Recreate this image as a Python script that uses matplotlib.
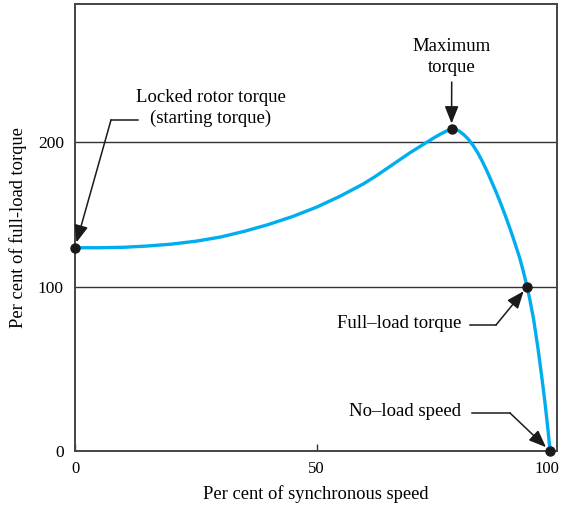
import numpy as np
import matplotlib
matplotlib.use("Agg")
import matplotlib.pyplot as plt
from matplotlib.transforms import ScaledTranslation

# ---- data ----
speed = [0, 5, 10, 15, 20, 25, 30, 35, 40, 45, 50, 55, 60, 62.5, 65, 67.5, 70,
         72.5, 75, 76.5, 78, 78.9, 79.6, 80.5, 81.5, 82.5, 83.5, 84.5, 85.5,
         86.5, 87.5, 88.5, 89.5, 90.5, 91.5, 92.5, 93.5, 94.3, 95.1, 95.7,
         96.5, 97.4, 98.2, 98.9, 99.6, 100]
torque = [127.0, 127.0, 127.3, 128.2, 129.5, 131.5, 134.3, 138.3, 143.0, 148.5,
          155.0, 162.5, 171.0, 176.0, 181.5, 187.0, 192.5, 197.5, 202.5, 205.3,
          207.7, 208.8, 208.9, 207.5, 205.0, 201.8, 197.6, 192.5, 186.5, 179.8,
          172.5, 165.0, 157.0, 148.5, 139.5, 130.0, 120.0, 110.5, 100.0, 92.0,
          80.0, 63.0, 46.0, 30.0, 12.0, 0.0]
key_speed = [0, 78.9, 95.1, 100]
key_torque = [127, 208.8, 100, 0]
ref_lines = [100, 200]
xticks = [0, 50, 100]
yticks = [0, 100, 200]
labels = ["Locked rotor torque\n(starting torque)", "Maximum\ntorque",
          "Full–load torque", "No–load speed"]

plt.rcParams['font.family'] = ['Liberation Serif', 'DejaVu Serif']

fig = plt.figure(figsize=(5.61, 5.07), dpi=100)
ax = fig.add_axes([75/561, 56/507, 482/561, 447/507])

# mild piecewise scales reproducing the drawn figure's axis spacing
xd = [-100, 0, 50, 100, 200]
xp = [-483.4, 0, 241.7, 475, 941.6]
yd = [-100, 0, 100, 200, 400]
yp = [-164, 0, 164, 309, 599]
ax.set_xscale('function', functions=(lambda v: np.interp(v, xd, xp),
                                     lambda v: np.interp(v, xp, xd)))
ax.set_yscale('function', functions=(lambda v: np.interp(v, yd, yp),
                                     lambda v: np.interp(v, yp, yd)))
ax.set_xlim(0, 101.5)
ax.set_ylim(0, 295)

for r in ref_lines:
    ax.axhline(r, color='#333333', lw=1.0, zorder=1)

ax.plot(speed, torque, color='#00AEEF', lw=2.4, zorder=3,
        solid_capstyle='round', solid_joinstyle='round')
ax.plot(key_speed, key_torque, 'o', color='#1a1a1a', ms=6.5, zorder=4,
        clip_on=False)

for s in ax.spines.values():
    s.set_color('#444444')
    s.set_linewidth(1.4)

ax.set_xticks(xticks)
ax.set_yticks(yticks)
ax.set_xticklabels([str(v) for v in xticks])
ax.set_yticklabels([str(v) for v in yticks])
ax.tick_params(axis='x', direction='in', length=5, width=1, color='#333333',
               labelsize=12, pad=7)
ax.tick_params(axis='y', length=0, labelsize=12.5, pad=8)
last = ax.get_xticklabels()[-1]
last.set_transform(last.get_transform() +
                   ScaledTranslation(-3/100, 0, fig.dpi_scale_trans))
ax.set_xlabel("Per cent of synchronous speed", fontsize=13.3, labelpad=6)
ax.set_ylabel("Per cent of full-load torque", fontsize=13.3, labelpad=8)

arrow = dict(arrowstyle='-|>,head_length=0.7,head_width=0.28', color='#1a1a1a',
             lw=1.1, mutation_scale=15, shrinkA=0, shrinkB=4)


def px(x_, y_):
    # pixel position (from top-left) to figure fraction
    return (x_/561, (507-y_)/507)


ann_fs = 13.5

# Locked rotor torque
fig.text(211/561, (507-108)/507, labels[0], ha='center', va='center',
         fontsize=ann_fs, linespacing=1.3)
fig.add_artist(plt.Line2D([111/561, 138/561], [(507-120)/507]*2,
                          color='#1a1a1a', lw=1.1))
ax.annotate("", xy=(key_speed[0], key_torque[0]), xycoords='data',
            xytext=px(111, 120), textcoords='figure fraction', arrowprops=arrow,
            annotation_clip=False)

# Maximum torque
fig.text(452/561, (507-57)/507, labels[1], ha='center', va='center',
         fontsize=ann_fs, linespacing=1.3)
ax.annotate("", xy=(key_speed[1], key_torque[1]), xycoords='data',
            xytext=px(451.7, 82), textcoords='figure fraction', arrowprops=arrow)

# Full-load torque
fig.text(461/561, (507-324)/507, labels[2], ha='right', va='center',
         fontsize=ann_fs)
fig.add_artist(plt.Line2D([470/561, 496/561], [(507-325)/507]*2,
                          color='#1a1a1a', lw=1.1))
ax.annotate("", xy=(key_speed[2], key_torque[2]), xycoords='data',
            xytext=px(496, 325), textcoords='figure fraction', arrowprops=arrow)

# No-load speed
fig.text(461/561, (507-412)/507, labels[3], ha='right', va='center',
         fontsize=ann_fs)
fig.add_artist(plt.Line2D([472/561, 510/561], [(507-413)/507]*2,
                          color='#1a1a1a', lw=1.1))
ax.annotate("", xy=(key_speed[3], key_torque[3]), xycoords='data',
            xytext=px(510, 413), textcoords='figure fraction', arrowprops=arrow,
            annotation_clip=False)

fig.savefig("out.png", dpi=100)
